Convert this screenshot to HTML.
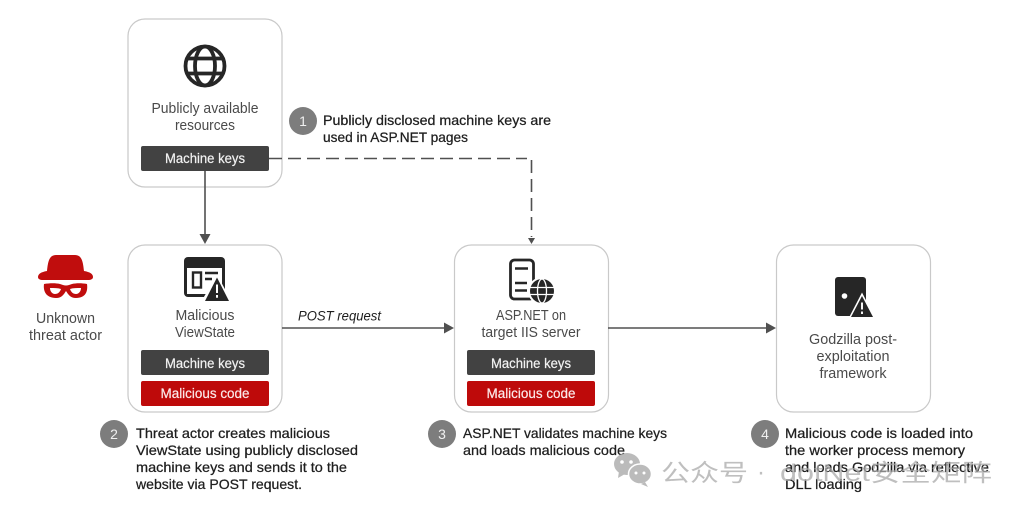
<!DOCTYPE html>
<html>
<head>
<meta charset="utf-8">
<style>
html,body{margin:0;padding:0;background:#fff;width:1024px;height:512px;overflow:hidden}
svg{display:block;filter:blur(.3px)}
text{font-family:"Liberation Sans","Noto Sans CJK SC",sans-serif}
.l{font-size:14.5px;fill:#4a4a4a;text-anchor:middle}
.c{font-size:13.5px;fill:#f2f2f2;stroke:#f2f2f2;stroke-width:.2px;text-anchor:middle}
.r{font-size:13.5px;fill:#fbe9e9;stroke:#fbe9e9;stroke-width:.2px;text-anchor:middle}
.b{font-size:14px;fill:#1e1e1e;stroke:#1e1e1e;stroke-width:.25px}
.n{font-size:14px;fill:#f0f0f0;text-anchor:middle}
.box{fill:#fff;stroke:#c9c9c9;stroke-width:1.2}
.wm{font-size:24px;fill:#aaa;opacity:.75}
</style>
</head>
<body>
<svg width="1024" height="512" viewBox="0 0 1024 512" xmlns="http://www.w3.org/2000/svg">
<rect width="1024" height="512" fill="#fff"/>

<!-- boxes -->
<rect class="box" x="128" y="19" width="154" height="168" rx="17"/>
<rect class="box" x="128" y="245" width="154" height="167" rx="17"/>
<rect class="box" x="454.500" y="245" width="154" height="167" rx="17"/>
<rect class="box" x="776.500" y="245" width="154" height="167" rx="17"/>

<!-- connectors -->
<g stroke="#505050" stroke-width="1.6" fill="none">
  <path d="M205 171V236"/>
  <path d="M282 328H446"/>
  <path d="M608 328H768"/>
  <path d="M269 158.500H527" stroke-dasharray="13 6"/>
  <path d="M531.500 160V237" stroke-dasharray="13 6"/>
</g>
<g fill="#505050">
  <path d="M199.500 234h11l-5.500 10z"/>
  <path d="M444 322.500v11l10-5.500z"/>
  <path d="M766 322.500v11l10-5.500z"/>
  <path d="M528 238h7l-3.500 6z"/>
</g>

<!-- globe -->
<g fill="none" stroke="#262626" stroke-width="3.800">
  <circle cx="205" cy="66" r="19.500"/>
  <ellipse cx="205" cy="66" rx="10" ry="19.500"/>
  <path d="M187.500 58.500H222.500M187.500 73.500H222.500"/>
</g>

<!-- labels box 1 -->
<text class="l" x="205" y="113" textLength="107" lengthAdjust="spacingAndGlyphs">Publicly available</text>
<text class="l" x="205" y="130" textLength="60" lengthAdjust="spacingAndGlyphs">resources</text>
<rect x="141" y="146" width="128" height="25" rx="2" fill="#424242"/>
<text class="c" x="205" y="163" textLength="80" lengthAdjust="spacingAndGlyphs">Machine keys</text>

<!-- threat actor -->
<g fill="#c00d0d">
  <path d="M47 271c1-9 2-16 9-16h19c7 0 8 7 9 16 6 1 9 3 9 6 0 2-2 3-5 3H43c-3 0-5-1-5-3 0-3 3-5 9-6z"/>
  <path fill-rule="evenodd" d="M44 284c6-1 12-1 16 0 2 .5 4 1.500 6 1.500s4-1 6-1.500c4-1 10-1 15 0 1 7-1 14-11 14-6 0-8-4-10-7-2 3-4 7-10 7-10 0-13-7-12-14zm6 4c0 3 2 6 5 6 3 0 5-2 6-5-3-1-7-1-11-1zm31 0c-4 0-8 0-11 1 1 3 3 5 6 5 3 0 5-3 5-6z"/>
</g>
<text class="l" x="65.500" y="323" textLength="59" lengthAdjust="spacingAndGlyphs">Unknown</text>
<text class="l" x="65.500" y="340" textLength="73" lengthAdjust="spacingAndGlyphs">threat actor</text>

<!-- malicious viewstate icon -->
<rect x="184" y="257" width="41" height="40" rx="4" fill="#262626"/>
<rect x="187" y="268" width="35" height="26" fill="#fff"/>
<rect x="193" y="272.500" width="8" height="15" fill="none" stroke="#262626" stroke-width="2.400"/>
<path d="M205 273h13M205 279h7" stroke="#262626" stroke-width="2.400" fill="none"/>
<path d="M217 274.500l15 27.500h-31z" fill="#fff"/>
<path d="M217 277.500l12 23.500h-24z" fill="#262626"/>
<path d="M217 284.500v8.500M217 295v2.800" stroke="#fff" stroke-width="2" fill="none"/>
<text class="l" x="205" y="320" textLength="59" lengthAdjust="spacingAndGlyphs">Malicious</text>
<text class="l" x="205" y="337" textLength="60" lengthAdjust="spacingAndGlyphs">ViewState</text>
<rect x="141" y="350" width="128" height="25" rx="2" fill="#424242"/>
<text class="c" x="205" y="368" textLength="80" lengthAdjust="spacingAndGlyphs">Machine keys</text>
<rect x="141" y="381" width="128" height="25" rx="2" fill="#be0a0a"/>
<text class="r" x="205" y="398" textLength="89" lengthAdjust="spacingAndGlyphs">Malicious code</text>

<!-- POST request -->
<text x="298" y="320.500" font-size="14" font-style="italic" fill="#1e1e1e" textLength="83" lengthAdjust="spacingAndGlyphs">POST request</text>

<!-- server icon -->
<rect x="510.500" y="260" width="23" height="39" rx="4" fill="none" stroke="#262626" stroke-width="2.800"/>
<path d="M515 268.500h13M515 283h12M515 290.500h12" stroke="#262626" stroke-width="2.400" fill="none"/>
<circle cx="542" cy="291" r="14" fill="#fff"/>
<circle cx="542" cy="291" r="12" fill="#262626"/>
<g stroke="#fff" stroke-width="1.300" fill="none">
  <ellipse cx="542" cy="291" rx="4.500" ry="12"/>
  <path d="M530 287.500H554M530 294.500H554"/>
</g>
<text class="l" x="531" y="320" textLength="70" lengthAdjust="spacingAndGlyphs">ASP.NET on</text>
<text class="l" x="531" y="337" textLength="99" lengthAdjust="spacingAndGlyphs">target IIS server</text>
<rect x="467" y="350" width="128" height="25" rx="2" fill="#424242"/>
<text class="c" x="531" y="368" textLength="80" lengthAdjust="spacingAndGlyphs">Machine keys</text>
<rect x="467" y="381" width="128" height="25" rx="2" fill="#be0a0a"/>
<text class="r" x="531" y="398" textLength="89" lengthAdjust="spacingAndGlyphs">Malicious code</text>

<!-- godzilla icon -->
<rect x="835" y="277" width="31" height="39" rx="3" fill="#262626"/>
<circle cx="844.500" cy="296" r="2.800" fill="#fff"/>
<path d="M862 292.500l13.500 26h-27z" fill="#fff"/>
<path d="M862 296l11 21h-22z" fill="#262626"/>
<path d="M862 302.500v7M862 311.500v2.500" stroke="#fff" stroke-width="1.900" fill="none"/>
<text class="l" x="853" y="344" textLength="88" lengthAdjust="spacingAndGlyphs">Godzilla post-</text>
<text class="l" x="853" y="361" textLength="73" lengthAdjust="spacingAndGlyphs">exploitation</text>
<text class="l" x="853" y="378" textLength="67" lengthAdjust="spacingAndGlyphs">framework</text>

<!-- step 1 -->
<circle cx="303" cy="121" r="14" fill="#7d7d7d"/>
<text class="n" x="303" y="126">1</text>
<text class="b" x="323" y="125" textLength="228" lengthAdjust="spacingAndGlyphs">Publicly disclosed machine keys are</text>
<text class="b" x="323" y="142" textLength="145" lengthAdjust="spacingAndGlyphs">used in ASP.NET pages</text>

<!-- step 2 -->
<circle cx="114" cy="434" r="14" fill="#7d7d7d"/>
<text class="n" x="114" y="439">2</text>
<text class="b" x="136" y="438" textLength="194" lengthAdjust="spacingAndGlyphs">Threat actor creates malicious</text>
<text class="b" x="136" y="455" textLength="222" lengthAdjust="spacingAndGlyphs">ViewState using publicly disclosed</text>
<text class="b" x="136" y="472" textLength="211" lengthAdjust="spacingAndGlyphs">machine keys and sends it to the</text>
<text class="b" x="136" y="489" textLength="166" lengthAdjust="spacingAndGlyphs">website via POST request.</text>

<!-- step 3 -->
<circle cx="442" cy="434" r="14" fill="#7d7d7d"/>
<text class="n" x="442" y="439">3</text>
<text class="b" x="463" y="438" textLength="204" lengthAdjust="spacingAndGlyphs">ASP.NET validates machine keys</text>
<text class="b" x="463" y="455" textLength="162" lengthAdjust="spacingAndGlyphs">and loads malicious code</text>

<!-- step 4 -->
<circle cx="765" cy="434" r="14" fill="#7d7d7d"/>
<text class="n" x="765" y="439">4</text>
<text class="b" x="785" y="438" textLength="188" lengthAdjust="spacingAndGlyphs">Malicious code is loaded into</text>
<text class="b" x="785" y="455" textLength="180" lengthAdjust="spacingAndGlyphs">the worker process memory</text>
<text class="b" x="785" y="472" textLength="204" lengthAdjust="spacingAndGlyphs">and loads Godzilla via reflective</text>
<text class="b" x="785" y="489" textLength="77" lengthAdjust="spacingAndGlyphs">DLL loading</text>

<!-- watermark -->
<g fill="#b0b0b0" opacity=".85">
  <ellipse cx="627" cy="464" rx="13" ry="11"/>
  <path d="M619 471l-1 7 7-4z"/>
  <ellipse cx="640" cy="474" rx="11.500" ry="10" stroke="#fff" stroke-width="1.500"/>
  <path d="M645 482l3 5-7-3z"/>
</g>
<g fill="#fff"><circle cx="622" cy="462" r="1.800"/><circle cx="631" cy="462" r="1.800"/><circle cx="636" cy="473" r="1.500"/><circle cx="644" cy="473" r="1.500"/></g>
<text class="wm" x="661" y="481" textLength="87" lengthAdjust="spacingAndGlyphs">公众号</text>
<text class="wm" x="757" y="480">·</text>
<text class="wm" x="780" y="481" textLength="212" lengthAdjust="spacingAndGlyphs">dotNet安全矩阵</text>
</svg>
</body>
</html>
